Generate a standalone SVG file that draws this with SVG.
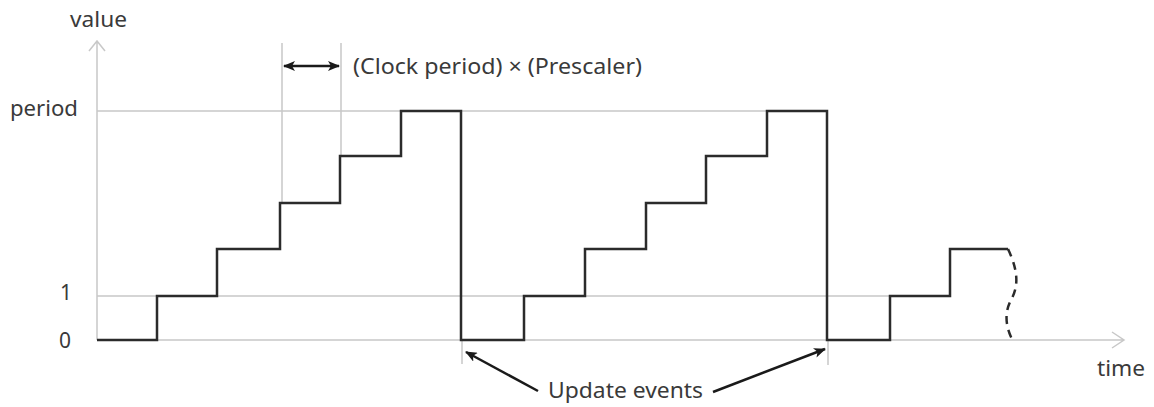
<svg xmlns="http://www.w3.org/2000/svg" width="1154" height="407" viewBox="0 0 1154 407">
<style>
.grid{stroke:#c8c8c8;stroke-width:1.5;fill:none}
.sig{stroke:#2b2b2b;stroke-width:2.5;fill:none;stroke-linejoin:miter}
.lbl{font-family:"Noto Sans","Open Sans",sans-serif;font-size:21px;fill:#3a3a3a}
.arr{stroke:#1a1a1a;stroke-width:2.5;fill:none}
</style>
<defs>
<marker id="ah" viewBox="0 0 12 10" refX="11" refY="5" markerWidth="12" markerHeight="10" markerUnits="userSpaceOnUse" orient="auto-start-reverse">
<path d="M0,0 L12,5 L0,10 L3,5 Z" fill="#1a1a1a"/>
</marker>
</defs>
<g id="axes">
<path class="grid" d="M97,340 V41 M89,51 L97,41 L105,51"/>
<path class="grid" d="M97,340 H1124 M1112,332 L1124,340 L1112,348"/>
<path class="grid" d="M97,296 H890 M97,111 H827"/>
<path class="grid" d="M282,43 V203 M341,43 V156"/>
<path class="grid" d="M462,340 V364 M828,340 V365"/>
</g>
<g id="labels">
<text class="lbl" x="70" y="27" textLength="57" lengthAdjust="spacingAndGlyphs">value</text>
<text class="lbl" x="10" y="116" textLength="68" lengthAdjust="spacingAndGlyphs">period</text>
<text class="lbl" x="60" y="300">1</text>
<text class="lbl" x="59" y="348">0</text>
<text class="lbl" x="1097" y="376" textLength="48" lengthAdjust="spacingAndGlyphs">time</text>
<text class="lbl" x="353" y="74" textLength="289" lengthAdjust="spacingAndGlyphs">(Clock period) × (Prescaler)</text>
<text class="lbl" x="548" y="398" textLength="155" lengthAdjust="spacingAndGlyphs">Update events</text>
</g>
<g id="signal">
<path class="sig" d="M97,340 H157 V296 H217 V249 H280 V203 H340 V156 H401 V111 H461 V340 H524 V296 H585 V249 H646 V203 H706 V156 H767 V111 H827 V340 H890 V296 H950 V249 H1008"/>
<path class="sig" stroke-dasharray="8,6" d="M1008,249 C1018,270 1019,286 1011,300 C1003,315 1007,330 1013,341"/>
</g>
<g id="connectors">
<line class="arr" x1="284" y1="66" x2="339" y2="66" marker-start="url(#ah)" marker-end="url(#ah)"/>
<line class="arr" x1="538" y1="391" x2="466" y2="352" marker-end="url(#ah)"/>
<line class="arr" x1="713" y1="392" x2="825" y2="349" marker-end="url(#ah)"/>
</g>
</svg>
